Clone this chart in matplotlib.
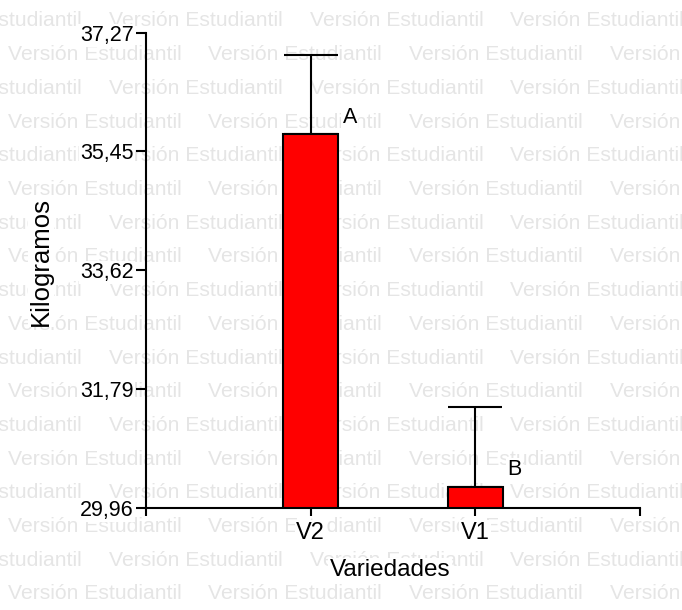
import matplotlib
matplotlib.use("Agg")
import matplotlib.pyplot as plt
import numpy as np

# Mean weight per variety (kg) with its upper error
categories = ["V2", "V1"]
means = [35.71, 30.29]
errors = [1.22, 1.22]
letters = ["A", "B"]

y_ticks = [29.96, 31.79, 33.62, 35.45, 37.27]
y_tick_labels = ["29,96", "31,79", "33,62", "35,45", "37,27"]

W, H, DPI = 682, 610, 100
plt.rcParams["font.family"] = ["Liberation Sans", "DejaVu Sans"]

fig = plt.figure(figsize=(W / DPI, H / DPI), dpi=DPI)
fig.patch.set_facecolor("white")

# Background watermark rows
mark = "Versión Estudiantil"
row_step = 33.7
col_step = 200.5
for i in range(19):
    y_px = 26.5 + row_step * i
    x0 = 109 if i % 2 == 0 else 8
    x = x0 - 2 * col_step
    while x < W + 10:
        fig.text(x / W, 1 - y_px / H, mark, fontsize=15.2, color="#e5e5e5",
                 ha="left", va="baseline", zorder=-5)
        x += col_step

left, right, bottom, top = 146, 640, 508, 33
ax = fig.add_axes([left / W, 1 - bottom / H, (right - left) / W, (bottom - top) / H])
ax.patch.set_visible(False)

xpos = np.arange(1, len(categories) + 1)
bar_w = 0.33
ax.bar(xpos, [m - y_ticks[0] for m in means], bottom=y_ticks[0], width=bar_w,
       color="#ff0000", edgecolor="black", linewidth=1.5, zorder=3)
ax.errorbar(xpos, means, yerr=[np.zeros(len(means)), errors], fmt="none",
            ecolor="black", elinewidth=1.5, capsize=19.5, capthick=1.5, zorder=2)

white_box = dict(facecolor="white", edgecolor="none", pad=1.0)
for xp, m, lt in zip(xpos, means, letters):
    ax.text(xp + 0.195, m + 0.1, lt, fontsize=15.5, ha="left", va="bottom",
            bbox=white_box, zorder=4)

ax.set_xlim(0, 3)
ax.set_ylim(y_ticks[0], y_ticks[-1])

ax.set_yticks(y_ticks)
ax.set_yticklabels(y_tick_labels, fontsize=15.5)
ax.set_xticks([0, 1, 2, 3])
ax.set_xticklabels([""] + categories + [""], fontsize=17)

ax.tick_params(axis="y", direction="out", length=7, width=1.5, pad=2)
ax.tick_params(axis="x", direction="out", length=6, width=1.5, pad=4)
for lab in ax.get_yticklabels() + ax.get_xticklabels():
    lab.set_bbox(white_box)

for s in ("top", "right"):
    ax.spines[s].set_visible(False)
for s in ("left", "bottom"):
    ax.spines[s].set_linewidth(1.5)

ax.set_xlabel("Variedades", fontsize=17.5, bbox=white_box)
ax.set_ylabel("Kilogramos", fontsize=18.5, bbox=white_box)
ax.xaxis.set_label_coords((390 - left) / (right - left), (bottom - 570) / (bottom - top))
ax.xaxis.label.set_va("center")
ax.yaxis.set_label_coords((41 - left) / (right - left), (bottom - 261.5) / (bottom - top))
ax.yaxis.label.set_va("center")

fig.savefig("out.png", dpi=DPI, facecolor="white")
